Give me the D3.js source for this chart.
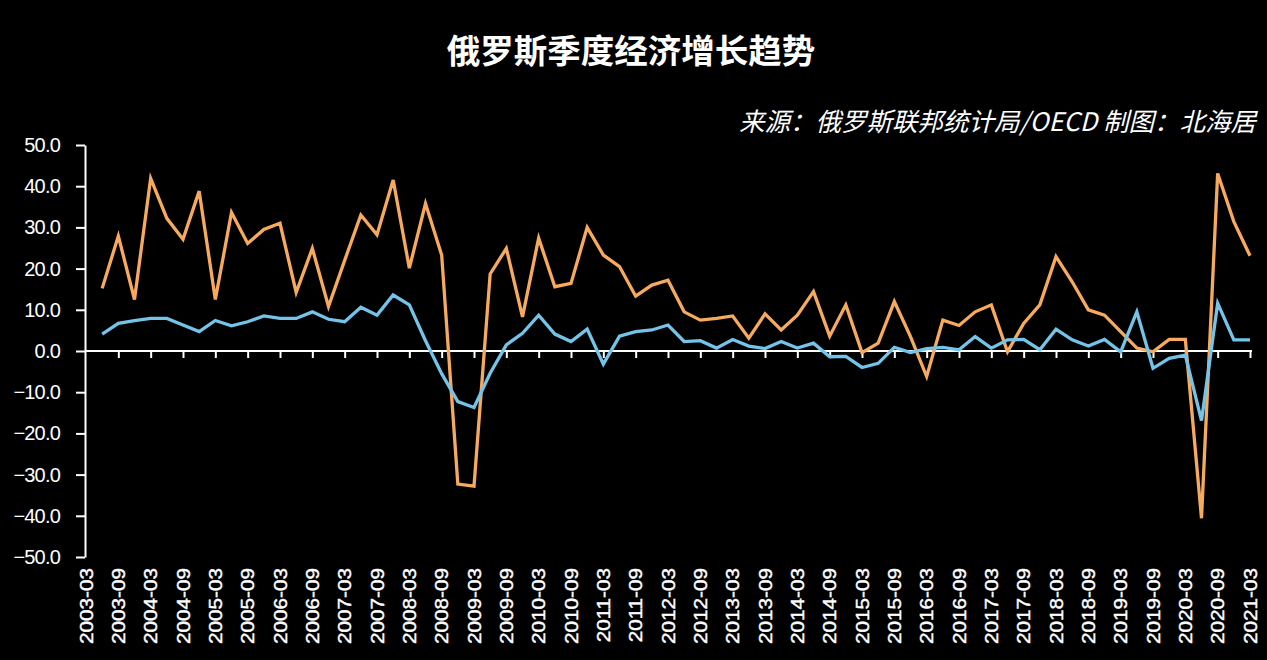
<!DOCTYPE html>
<html>
<head>
<meta charset="utf-8">
<script src="https://cdn.jsdelivr.net/npm/d3@7"></script>
<style>
  html, body { margin: 0; padding: 0; background: #000; }
  svg { display: block; }
</style>
</head>
<body>
<svg id="chart" width="1267" height="660"></svg>
<script>
// ---- data ----
const titleText = "俄罗斯季度经济增长趋势";
const sourceText = "来源：俄罗斯联邦统计局/OECD 制图：北海居";

const categories = [];
for (let yr = 2003; yr <= 2021; yr++) {
  ["03", "06", "09", "12"].forEach(q => {
    if (yr === 2021 && q !== "03") return;
    categories.push(yr + "-" + q);
  });
}

// orange series
const seriesOrange = [
  null, 15.2, 27.9, 12.5, 41.9, 32.2, 27.1, 38.8, 12.5, 33.6,
  26.1, 29.5, 31.0, 14.2, 24.9, 10.8, 22.0, 33.0, 28.2, 41.5,
  20.1, 35.8, 23.3, -32.3, -32.8, 18.7, 24.9, 8.3, 27.4, 15.6,
  16.4, 30.0, 23.3, 20.5, 13.3, 16.0, 17.2, 9.5, 7.5, 7.9,
  8.5, 3.1, 9.0, 5.1, 8.7, 14.4, 3.6, 11.2, -0.4, 1.9,
  12.0, 3.5, -6.2, 7.5, 6.2, 9.5, 11.2, -0.2, 6.7, 11.2,
  22.9, 16.8, 10.0, 8.7, 4.7, 0.7, -0.2, 2.8, 2.8, -40.6,
  43.1, 31.4, 23.1
];

// blue series
const seriesBlue = [
  null, 4.1, 6.7, 7.4, 7.9, 7.9, 6.3, 4.7, 7.4, 6.1,
  7.1, 8.5, 7.9, 7.9, 9.5, 7.7, 7.1, 10.6, 8.7, 13.6,
  11.2, 2.5, -5.5, -12.3, -13.7, -5.4, 1.5, 4.3, 8.7, 4.1,
  2.3, 5.3, -3.2, 3.6, 4.7, 5.1, 6.3, 2.3, 2.5, 0.7,
  2.8, 1.2, 0.6, 2.3, 0.7, 1.9, -1.4, -1.3, -4.0, -3.0,
  0.9, -0.4, 0.6, 0.9, 0.3, 3.5, 0.7, 2.7, 2.8, 0.3,
  5.3, 2.7, 1.2, 2.8, -0.2, 9.5, -4.2, -1.8, -1.0, -16.9,
  11.6, 2.7, 2.7
];

const yTicks = [-50, -40, -30, -20, -10, 0, 10, 20, 30, 40, 50];
const xLabels = categories.filter(c => c.endsWith("-03") || c.endsWith("-09"));

// ---- drawing ----
const svg = d3.select("#chart");
const W = 1267, H = 660;
svg.append("rect").attr("width", W).attr("height", H).attr("fill", "#000");

const axisX = 85;
const x = d3.scalePoint().domain(categories).range([86, 1250]);
const y = d3.scaleLinear().domain([-50, 50]).range([557, 145]);

// title
svg.append("text")
  .attr("x", 631).attr("y", 63)
  .attr("text-anchor", "middle")
  .attr("font-family", "'Noto Sans CJK SC', sans-serif")
  .attr("font-weight", "bold")
  .attr("font-size", 33.5)
  .attr("fill", "#fff")
  .text(titleText);

// source
svg.append("text")
  .attr("x", 1256).attr("y", 131)
  .attr("text-anchor", "end")
  .attr("font-family", "'Noto Sans CJK SC', sans-serif")
  .attr("font-style", "italic")
  .attr("font-size", 25.5)
  .attr("fill", "#fff")
  .text(sourceText);

// y axis
const yAxis = d3.axisLeft(y)
  .tickValues(yTicks)
  .tickSize(9)
  .tickSizeOuter(0)
  .tickPadding(16)
  .tickFormat(d3.format(".1f"));
const gy = svg.append("g").attr("transform", `translate(${axisX},0)`).call(yAxis);
gy.select(".domain").attr("stroke", "#fff").attr("stroke-width", 2);
gy.selectAll(".tick line").attr("stroke", "#fff").attr("stroke-width", 2);
gy.selectAll(".tick text")
  .attr("fill", "#fff")
  .attr("font-family", "'Liberation Sans', Arial, sans-serif")
  .attr("font-size", 20)
  .attr("letter-spacing", "-0.8px");

// zero axis with tick marks
const xTickAxis = d3.axisBottom(x)
  .tickValues(categories.filter((c, i) => i % 2 === 0 && i > 0))
  .tickSize(7)
  .tickSizeOuter(0)
  .tickFormat("");
const gx = svg.append("g").attr("transform", `translate(0,${y(0)})`).call(xTickAxis);
gx.select(".domain").attr("d", `M${axisX},0H1252`).attr("stroke", "#fff").attr("stroke-width", 2);
gx.selectAll(".tick line").attr("stroke", "#fff").attr("stroke-width", 2);

// bottom category labels
const labelAxis = d3.axisBottom(x)
  .tickValues(xLabels)
  .tickSize(0)
  .tickSizeOuter(0);
const gl = svg.append("g").attr("transform", "translate(0,568)").call(labelAxis);
gl.select(".domain").remove();
gl.selectAll(".tick text")
  .attr("fill", "#fff")
  .attr("font-family", "'Liberation Sans', Arial, sans-serif")
  .attr("font-size", 18)
  .attr("stroke", "#fff")
  .attr("stroke-width", 0.4)
  .attr("text-anchor", "end")
  .attr("dy", "0.35em")
  .attr("y", 0)
  .attr("x", 0)
  .attr("transform", "rotate(-90) scale(1.15,1)");

// lines
const line = d3.line()
  .defined(d => d.v !== null)
  .x(d => x(d.c))
  .y(d => y(d.v));

const orangeData = categories.map((c, i) => ({ c, v: seriesOrange[i] }));
const blueData = categories.map((c, i) => ({ c, v: seriesBlue[i] }));

svg.append("path")
  .datum(orangeData)
  .attr("fill", "none")
  .attr("stroke", "#f7aa5e")
  .attr("stroke-width", 3.3)
  .attr("stroke-linejoin", "miter")
  .attr("d", line);

svg.append("path")
  .datum(blueData)
  .attr("fill", "none")
  .attr("stroke", "#73c4e8")
  .attr("stroke-width", 3.3)
  .attr("stroke-linejoin", "miter")
  .attr("d", line);
</script>
</body>
</html>
